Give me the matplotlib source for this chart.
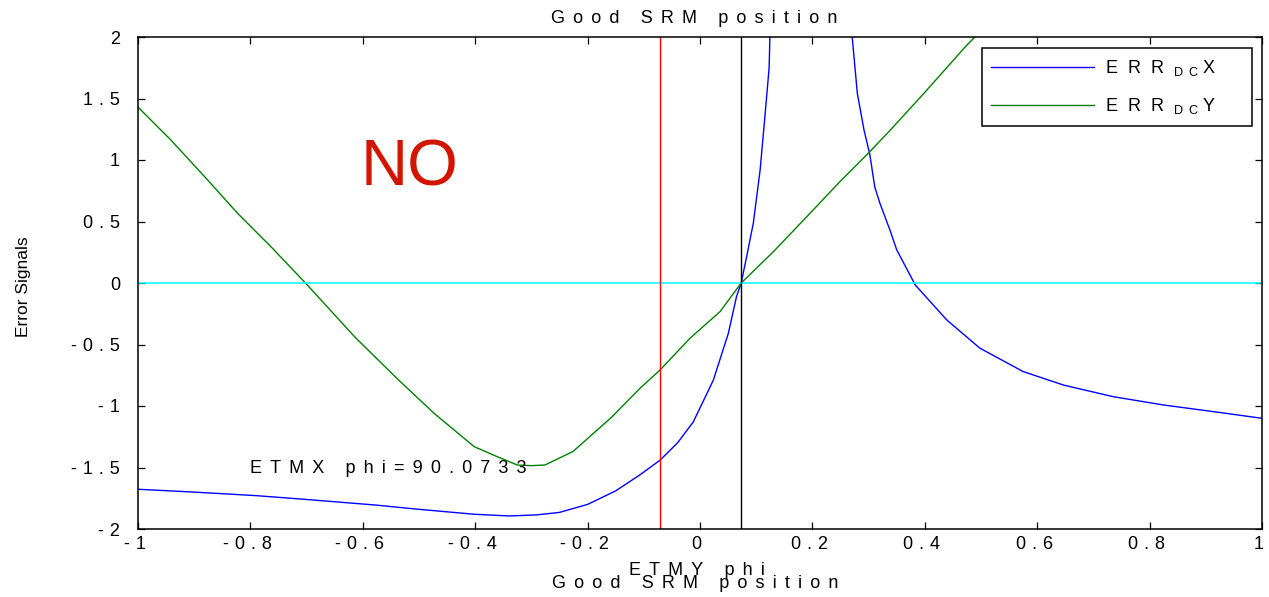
import matplotlib
matplotlib.use("Agg")
import matplotlib.pyplot as plt
import numpy as np

plt.rcParams['font.family'] = ['Liberation Sans', 'DejaVu Sans']
plt.rcParams['mathtext.fontset'] = 'custom'
plt.rcParams['mathtext.rm'] = 'Liberation Sans'
plt.rcParams['mathtext.it'] = 'Liberation Sans:italic'
plt.rcParams['mathtext.bf'] = 'Liberation Sans:bold'

# ---------------- data ----------------
blue_left_x = [-1.0, -0.9, -0.789, -0.7, -0.578, -0.5, -0.402, -0.339, -0.29, -0.25,
               -0.2, -0.15, -0.107, -0.071, -0.04, -0.012, 0.0237, 0.0504, 0.065,
               0.0733, 0.083, 0.095, 0.107, 0.116, 0.123, 0.126]
blue_left_y = [-1.677, -1.70, -1.729, -1.76, -1.805, -1.84, -1.88, -1.894, -1.885, -1.865,
               -1.80, -1.69, -1.56, -1.44, -1.30, -1.13, -0.79, -0.41, -0.11,
               0.0, 0.214, 0.49, 0.92, 1.38, 1.75, 2.3]
blue_right_x = [0.268, 0.271, 0.280, 0.292, 0.302, 0.311, 0.320, 0.338, 0.35, 0.383,
                0.439, 0.498, 0.575, 0.647, 0.735, 0.825, 0.914, 1.0]
blue_right_y = [2.3, 1.99, 1.54, 1.24, 1.05, 0.78, 0.65, 0.43, 0.27, -0.016,
                -0.30, -0.53, -0.72, -0.83, -0.924, -0.992, -1.046, -1.10]

green_x = [-1.0, -0.941, -0.881, -0.822, -0.763, -0.70, -0.614, -0.536, -0.473, -0.402,
           -0.367, -0.325, -0.30, -0.276, -0.226, -0.157, -0.107, -0.071, -0.018, 0.0356,
           0.0733, 0.1305, 0.19, 0.249, 0.302, 0.338, 0.40, 0.472, 0.489, 0.50]
green_y = [1.43, 1.16, 0.862, 0.563, 0.293, -0.01, -0.44, -0.79, -1.06, -1.33,
           -1.40, -1.48, -1.485, -1.48, -1.37, -1.09, -0.857, -0.707, -0.45, -0.233,
           0.0, 0.254, 0.539, 0.824, 1.067, 1.24, 1.55, 1.92, 2.0, 2.05]

red_line_x = -0.071
black_line_x = 0.0733
cyan_line_y = 0.0

x_ticks = [-1, -0.8, -0.6, -0.4, -0.2, 0, 0.2, 0.4, 0.6, 0.8, 1]
x_tick_labels = ['-1', '-0.8', '-0.6', '-0.4', '-0.2', '0', '0.2', '0.4', '0.6', '0.8', '1']
y_ticks = [-2, -1.5, -1, -0.5, 0, 0.5, 1, 1.5, 2]
y_tick_labels = ['-2', '-1.5', '-1', '-0.5', '0', '0.5', '1', '1.5', '2']

title_text = "Good SRM position"
xlabel_text = "ETMY phi"
ylabel_text = "Error Signals"
annot_text = "ETMX phi=90.0733"
legend_labels = [r'E  R  R  $_{\mathregular{D\;\;C}}$ X      ',
                 r'E  R  R  $_{\mathregular{D\;\;C}}$ Y      ']

GAP = '\u2005\u2009'
TICK_GAP = '\u2004'


def sp(s, gap=GAP):
    return gap.join(s)


# ---------------- figure ----------------
fig = plt.figure(figsize=(12.69, 5.97), dpi=100)
ax = fig.add_axes([138 / 1269, 68 / 597, 1124 / 1269, 492 / 597])

bx = blue_left_x + [np.nan] + blue_right_x
by = blue_left_y + [np.nan] + blue_right_y
lb, = ax.plot(bx, by, color='#0000ff', lw=1.0, label=legend_labels[0])
lg, = ax.plot(green_x, green_y, color='#008000', lw=1.0, label=legend_labels[1])

ax.axhline(cyan_line_y, color='#00ffff', lw=1.1)
ax.axvline(red_line_x, color='#ff0000', lw=1.0)
ax.axvline(black_line_x, color='#000000', lw=1.0)

ax.set_xlim(-1, 1)
ax.set_ylim(-2, 2)
ax.set_xticks(x_ticks)
ax.set_xticklabels([sp(t, TICK_GAP) + TICK_GAP for t in x_tick_labels])
ax.set_yticks(y_ticks)
ax.set_yticklabels([sp(t, TICK_GAP) for t in y_tick_labels])
ax.tick_params(axis='both', direction='in', length=5, width=0.9, top=True, right=True,
               labelsize=13, colors='black')
ax.tick_params(axis='x', pad=5)
ax.tick_params(axis='y', pad=13)
for s in ax.spines.values():
    s.set_linewidth(1.1)
    s.set_color('black')

ax.set_title(sp(title_text), x=0.495, y=1.029, pad=0, fontsize=13, va='baseline')
ax.set_xlabel(sp(xlabel_text), fontsize=13, va='baseline')
ax.xaxis.set_label_coords(0.497, -0.0935)
fig.text(695 / 1269, 1 - 588 / 597, sp(title_text), fontsize=13, ha='center', va='baseline')
ax.set_ylabel(ylabel_text, fontsize=12.5, va='center')
ax.yaxis.set_label_coords(-0.1015, 0.492)

ax.text(-0.80, -1.545, sp(annot_text), fontsize=13, ha='left', va='baseline')
ax.text(-0.603, 0.794, "NO", fontsize=47, color='#d11500', ha='left', va='baseline')

leg = ax.legend(handles=[lb, lg], loc='upper right', bbox_to_anchor=(0.991, 0.9776),
                borderaxespad=0, fontsize=13, handlelength=5.7, handletextpad=0.6,
                labelspacing=1.0, fancybox=False, framealpha=1, borderpad=0.55)
leg.get_frame().set_edgecolor('black')
leg.get_frame().set_linewidth(1.1)

fig.savefig('out.png', dpi=100)
